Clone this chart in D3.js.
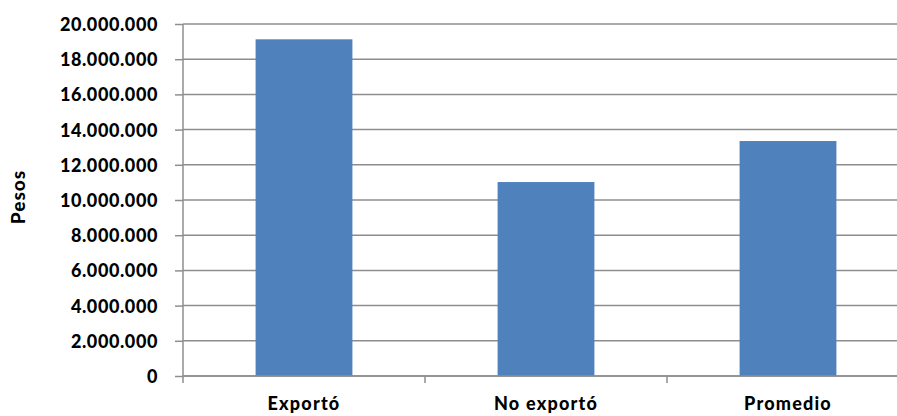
<!DOCTYPE html>
<html>
<head>
<meta charset="utf-8">
<script src="https://cdnjs.cloudflare.com/ajax/libs/d3/7.8.5/d3.min.js"></script>
<style>
  body { margin: 0; background: #fff; }
  svg { display: block; }
  text { font-family: Lato, "Open Sans", sans-serif; font-weight: 900; fill: #000; }
</style>
</head>
<body>
<svg id="chart" width="897" height="416"></svg>
<script>
// data
var categories = ["Exportó", "No exportó", "Promedio"];
var values = [19130000, 11020000, 13350000];
var yTicks = [0, 2000000, 4000000, 6000000, 8000000, 10000000, 12000000, 14000000, 16000000, 18000000, 20000000];
var yLabel = "Pesos";

var svg = d3.select("#chart");
var plotLeft = 183, plotRight = 909, plotTop = 24, plotBottom = 376;
var gridColor = "#8e8e8e";

var fmt = function (v) {
	return d3.format(",")(v).replace(/,/g, ".");
};

var x = d3.scaleBand()
	.domain(categories)
	.range([plotLeft, plotRight])
	.paddingInner(0.6)
	.paddingOuter(0.3);

var xBands = d3.scaleBand()
	.domain(categories)
	.range([plotLeft, plotRight]);

var y = d3.scaleLinear()
	.domain([0, 20000000])
	.range([plotBottom, plotTop]);

// gridlines
svg.append("g")
	.selectAll("line")
	.data(yTicks)
	.join("line")
	.attr("x1", plotLeft)
	.attr("x2", plotRight)
	.attr("y1", function (d) { return y(d); })
	.attr("y2", function (d) { return y(d); })
	.attr("stroke", gridColor)
	.attr("stroke-width", 1.5);

// bars
svg.append("g")
	.selectAll("rect")
	.data(values)
	.join("rect")
	.attr("x", function (d, i) { return x(categories[i]); })
	.attr("width", x.bandwidth())
	.attr("y", function (d) { return y(d); })
	.attr("height", function (d) { return y(0) - y(d); })
	.attr("fill", "#4f81bd");

// y axis
var yAxis = d3.axisLeft(y)
	.tickValues(yTicks)
	.tickFormat(fmt)
	.tickSize(8)
	.tickPadding(17)
	.tickSizeOuter(0);
var gy = svg.append("g")
	.attr("transform", "translate(" + plotLeft + ",0)")
	.call(yAxis);
gy.selectAll("line, path").attr("stroke", gridColor).attr("stroke-width", 1.5);
gy.selectAll("text")
	.style("font-size", "18px")
	.style("letter-spacing", "0.6px")
	.attr("dy", "0.36em");
gy.select(".domain").attr("d", "M0," + plotTop + "V" + (plotBottom + 7));

// x axis: ticks at band boundaries
var gx = svg.append("g");
gx.append("line")
	.attr("x1", plotLeft).attr("x2", plotRight)
	.attr("y1", plotBottom).attr("y2", plotBottom)
	.attr("stroke", gridColor).attr("stroke-width", 1.5);
gx.selectAll(".xt")
	.data(categories.slice(1))
	.join("line")
	.attr("class", "xt")
	.attr("x1", function (d) { return xBands(d); })
	.attr("x2", function (d) { return xBands(d); })
	.attr("y1", plotBottom)
	.attr("y2", plotBottom + 7)
	.attr("stroke", gridColor).attr("stroke-width", 1.5);
gx.selectAll("text")
	.data(categories)
	.join("text")
	.attr("x", function (d) { return xBands(d) + xBands.bandwidth() / 2; })
	.attr("y", 410)
	.attr("text-anchor", "middle")
	.style("font-size", "18px")
	.style("letter-spacing", "1.2px")
	.text(function (d) { return d; });

// y label
svg.append("text")
	.attr("transform", "translate(25,197) rotate(-90)")
	.attr("text-anchor", "middle")
	.style("font-size", "19px")
	.style("letter-spacing", "1px")
	.text(yLabel);
</script>
</body>
</html>
